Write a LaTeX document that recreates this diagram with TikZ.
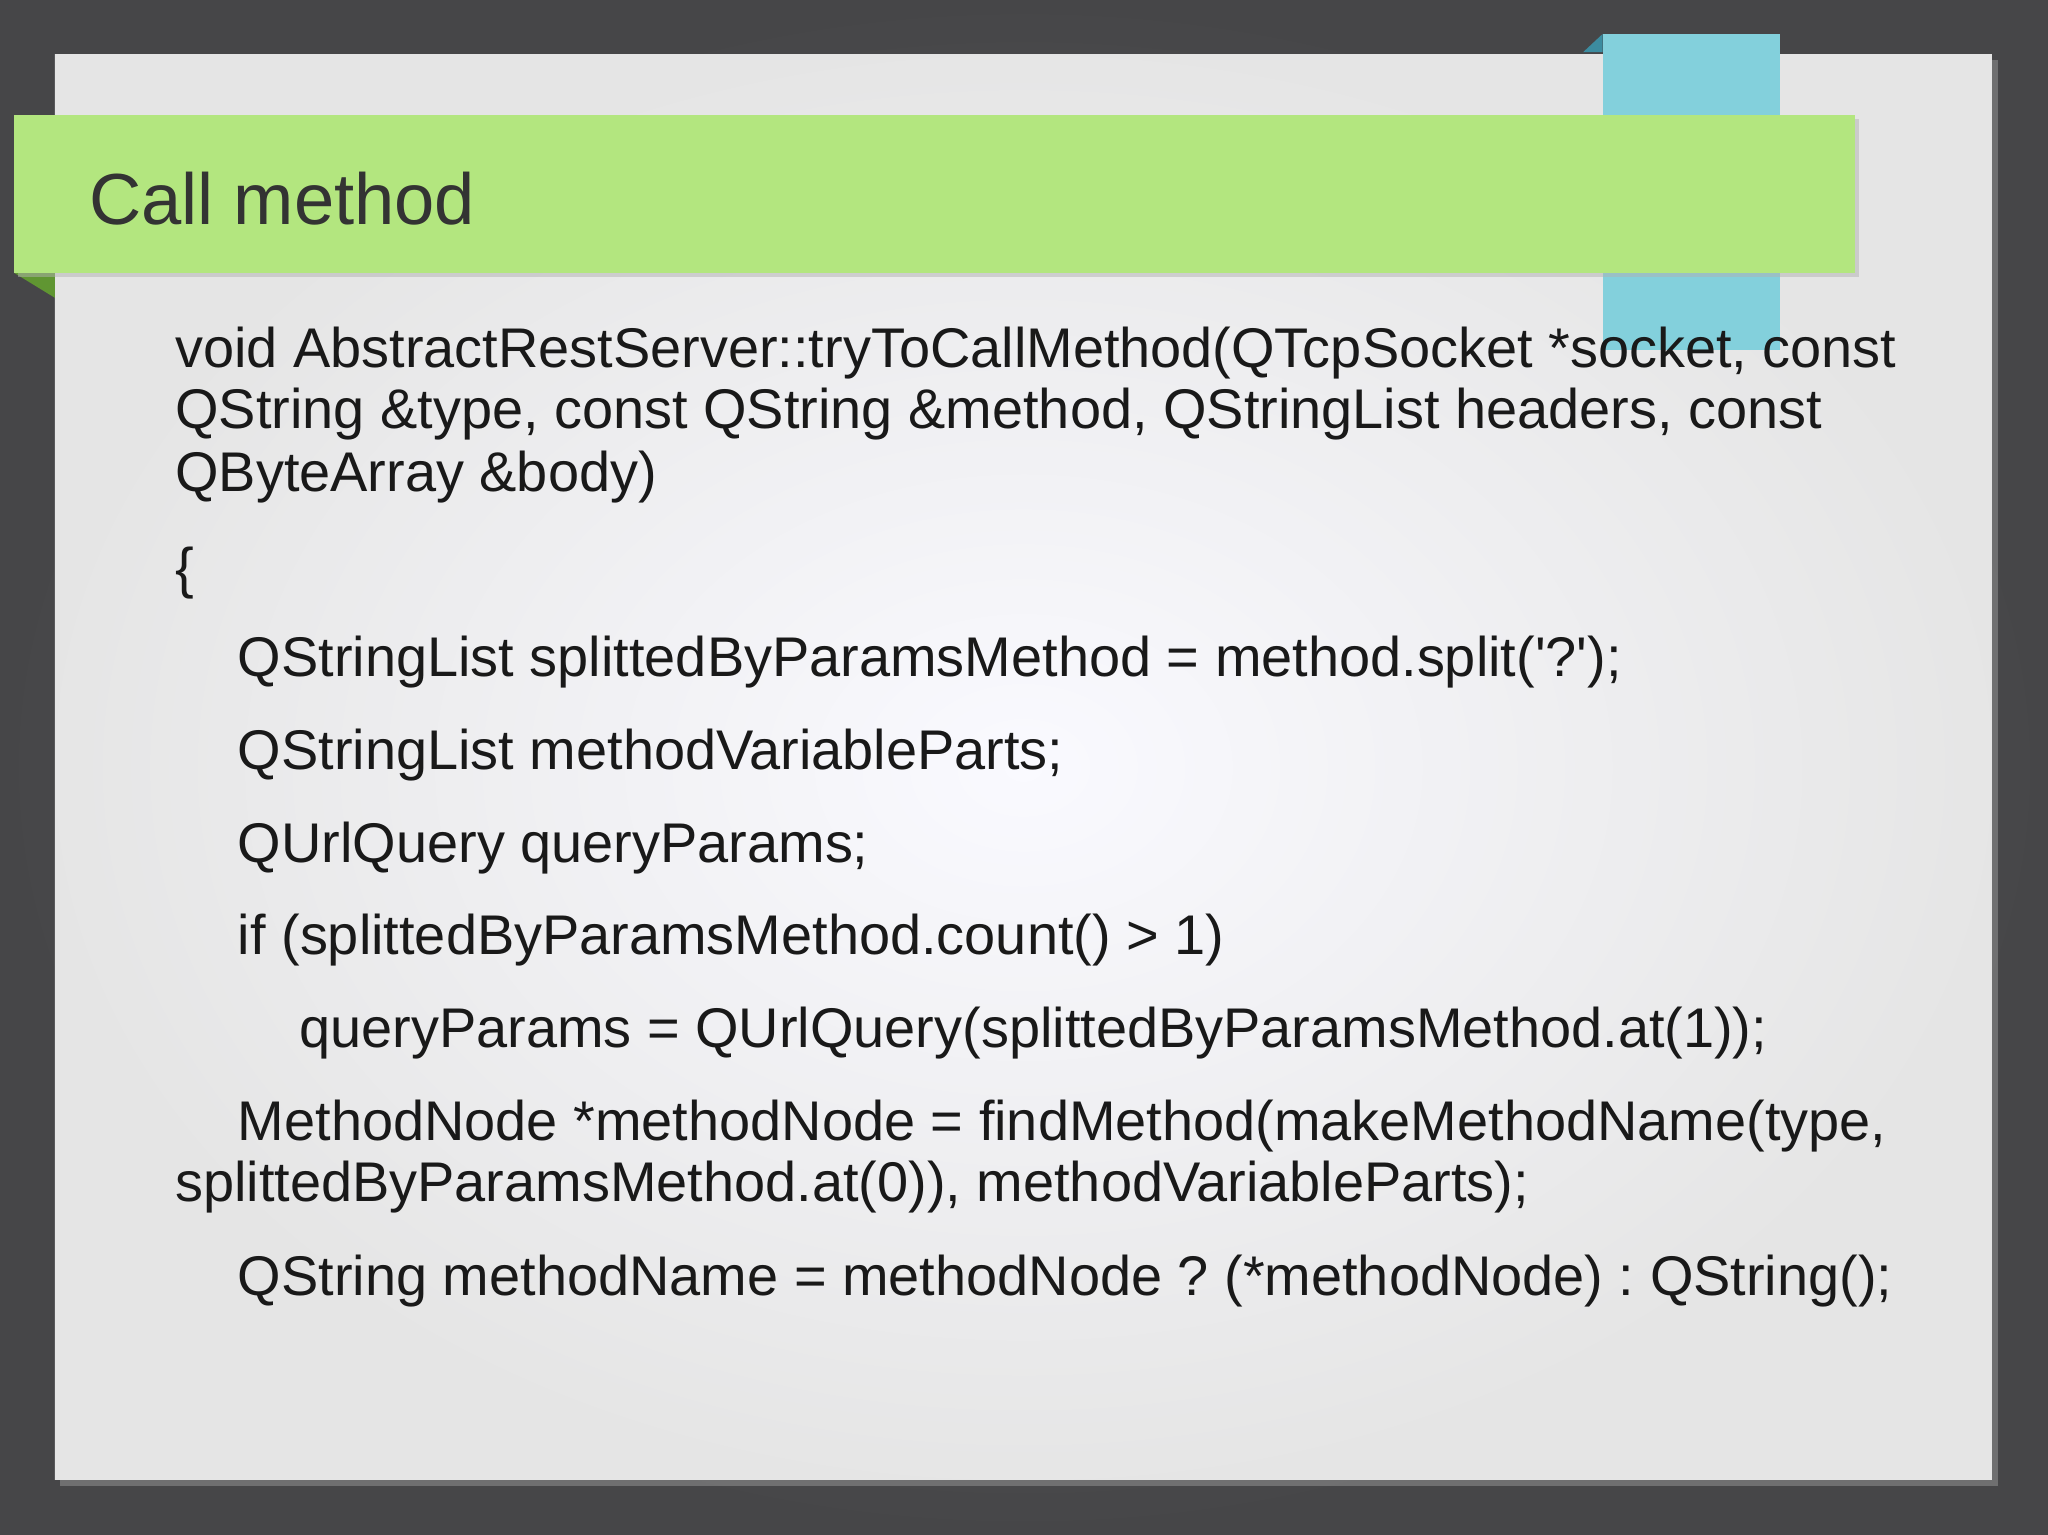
\documentclass[tikz,border=0pt]{standalone}
\usepackage{fontspec}
\setmainfont{Liberation Sans}
\definecolor{bggray}{RGB}{80,80,82}
\definecolor{bgedge}{RGB}{70,70,72}
\definecolor{bannergreen}{RGB}{179,230,127}
\definecolor{darkgreen}{RGB}{96,150,50}
\definecolor{tabblue}{RGB}{131,208,220}
\definecolor{tabdark}{RGB}{60,140,160}
\begin{document}
\frenchspacing
\begin{tikzpicture}[x=1pt,y=-1pt,
  code/.style={anchor=base west,inner sep=0pt,font=\fontsize{42.8}{47}\selectfont,text=black!90}]
\useasboundingbox (0,0) rectangle (1568,1175);
\shade[inner color=bggray!90!white,outer color=bgedge] (0,0) rectangle (1568,1175);
\fill[black!40,opacity=0.5] (46,46) rectangle (1530,1138);
\shade[inner color=white!98!blue,outer color=black!10] (42,42) rectangle (1525,1133);
\fill[tabdark] (1212,40) -- (1227,26) -- (1227,40) -- cycle;
\fill[tabblue] (1227,26) rectangle (1363,268);
\fill[darkgreen] (11,209) -- (42,209) -- (42,228) -- cycle;
\fill[black!30,opacity=0.5] (14,91) rectangle (1423,212);
\fill[bannergreen] (11,88) rectangle (1420,209);
\node[anchor=base west,inner sep=0pt,font=\fontsize{55.4}{60}\selectfont,text=black!80] (title) at (68,172) {Call method};
\node[code] (l1) at (134,281) {void AbstractRestServer::tryToCallMethod(QTcpSocket *socket, const};
\node[code] (l2) at (134,328) {QString \&type, const QString \&method, QStringList headers, const};
\node[code] (l3) at (134,376) {QByteArray \&body)};
\node[code] (l4) at (134,450) {\{};
\node[code] (l5) at (182,518) {QStringList splittedByParamsMethod = method.split(\textquotesingle?\textquotesingle);};
\node[code] (l6) at (182,589) {QStringList methodVariableParts;};
\node[code] (l7) at (182,660) {QUrlQuery queryParams;};
\node[code] (l8) at (182,731) {if (splittedByParamsMethod.count() > 1)};
\node[code] (l9) at (229,802) {queryParams = QUrlQuery(splittedByParamsMethod.at(1));};
\node[code] (l10) at (182,873) {MethodNode *methodNode = findMethod(makeMethodName(type,};
\node[code] (l11) at (134,920) {splittedByParamsMethod.at(0)), methodVariableParts);};
\node[code] (l12) at (182,992) {QString methodName = methodNode ? (*methodNode) : QString();};
\end{tikzpicture}
\end{document}
